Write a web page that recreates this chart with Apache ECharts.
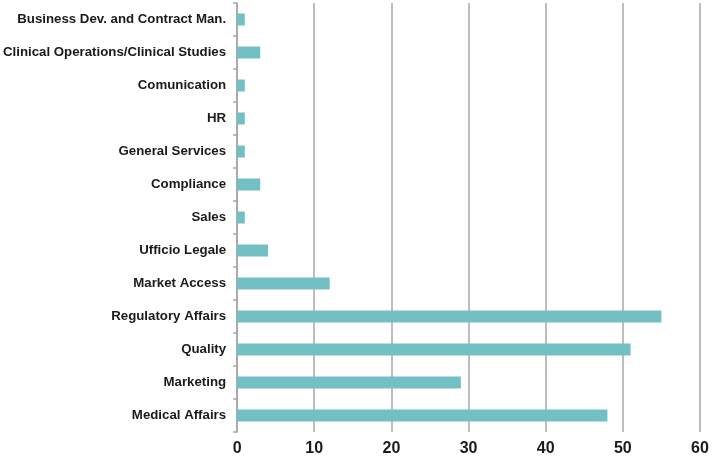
<!DOCTYPE html>
<html>
<head>
<meta charset="utf-8">
<script src="https://cdn.jsdelivr.net/npm/echarts@6/dist/echarts.min.js"></script>
<style>html,body{margin:0;padding:0;background:#fff}#c{width:713px;height:458px}</style>
</head>
<body>
<div id="c"></div>
<script>
const categories = ["Medical Affairs","Marketing","Quality","Regulatory Affairs","Market Access","Ufficio Legale","Sales","Compliance","General Services","HR","Comunication","Clinical Operations/Clinical Studies","Business Dev. and Contract Man."];
const values = [48,29,51,55,12,4,1,3,1,1,1,3,1];
const xTicks = [0,10,20,30,40,50,60];

const chart = echarts.init(document.getElementById('c'), null, {renderer:'canvas'});
chart.setOption({
  animation:false,
  grid:{left:237,right:13,top:3,bottom:26,containLabel:false},
  xAxis:{
    type:'value',min:xTicks[0],max:xTicks[xTicks.length-1],interval:10,
    axisLine:{show:false},axisTick:{show:false},
    splitLine:{show:true,lineStyle:{color:'#bdbdbd',width:2}},
    axisLabel:{color:'#1a1a1a',fontFamily:'Liberation Sans, Arial, sans-serif',fontWeight:'bold',fontSize:16,margin:9,
      formatter:v=>String(v)}
  },
  yAxis:{
    type:'category',data:categories,
    axisLine:{show:true,lineStyle:{color:'#a6a6a6',width:1.5}},
    axisTick:{show:true,inside:false,length:4,alignWithLabel:false,lineStyle:{color:'#a6a6a6',width:1.5}},
    axisLabel:{color:'#1a1a1a',fontFamily:'Liberation Sans, Arial, sans-serif',fontWeight:'bold',fontSize:13.25,margin:11}
  },
  series:[{type:'bar',data:values,barWidth:12,itemStyle:{color:'#72bfc4'}}]
});
</script>
</body>
</html>
